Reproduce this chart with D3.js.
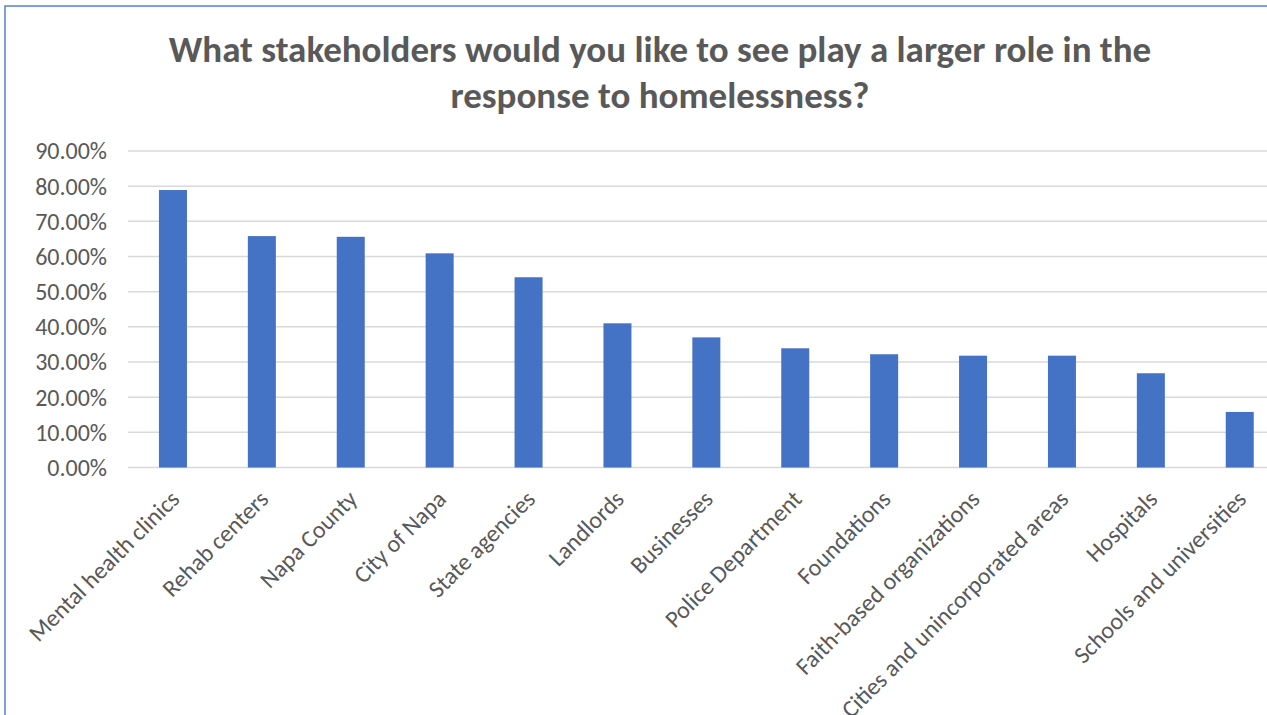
<!DOCTYPE html>
<html>
<head>
<meta charset="utf-8">
<script src="https://cdn.jsdelivr.net/npm/d3@7"></script>
<style>
  body { margin: 0; background: #fff; }
  svg { display: block; font-family: Carlito, Calibri, Lato, sans-serif; }
</style>
</head>
<body>
<svg id="chart" width="1267" height="715"></svg>
<script>
var categories = [
    "Mental health clinics", "Rehab centers", "Napa County", "City of Napa",
    "State agencies", "Landlords", "Businesses", "Police Department",
    "Foundations", "Faith-based organizations", "Cities and unincorporated areas",
    "Hospitals", "Schools and universities"
];
var values = [0.789, 0.658, 0.656, 0.609, 0.541, 0.410, 0.370, 0.339, 0.322, 0.318, 0.318, 0.268, 0.158];
var yTicks = [0, 0.1, 0.2, 0.3, 0.4, 0.5, 0.6, 0.7, 0.8, 0.9];
var titleLines = [
    "What stakeholders would you like to see play a larger role in the",
    "response to homelessness?"
];

var svg = d3.select("#chart");

// chart frame (cut off at right and bottom like the screenshot)
svg.append("rect")
    .attr("x", 5).attr("y", 6)
    .attr("width", 1300).attr("height", 800)
    .attr("fill", "#fff")
    .attr("stroke", "#5083d2")
    .attr("stroke-width", 1.5);

var x = d3.scaleBand()
    .domain(categories)
    .range([128.5, 128.5 + 88.9 * categories.length])
    .paddingInner(0.685)
    .paddingOuter(0.3425);

var y = d3.scaleLinear()
    .domain([0, 0.9])
    .range([467.5, 151]);

// gridlines
svg.append("g").selectAll("line")
    .data(yTicks)
    .enter().append("line")
    .attr("x1", 128).attr("x2", 1267)
    .attr("y1", function(d) { return y(d); })
    .attr("y2", function(d) { return y(d); })
    .attr("stroke", "#d9d9d9")
    .attr("stroke-width", 1.5);

// y tick labels
svg.append("g").selectAll("text")
    .data(yTicks)
    .enter().append("text")
    .attr("x", 107)
    .attr("y", function(d) { return y(d); })
    .attr("dy", "0.35em")
    .attr("text-anchor", "end")
    .attr("fill", "#595959")
    .attr("font-size", 24)
    .text(function(d) { return (d * 100).toFixed(2) + "%"; });

// bars
svg.append("g").selectAll("rect")
    .data(values)
    .enter().append("rect")
    .attr("x", function(d, i) { return x(categories[i]); })
    .attr("width", x.bandwidth())
    .attr("y", function(d) { return y(d); })
    .attr("height", function(d) { return y(0) - y(d); })
    .attr("fill", "#4472c4");

// category labels
svg.append("g").selectAll("text")
    .data(categories)
    .enter().append("text")
    .attr("transform", function(d) {
        var cx = x(d) + x.bandwidth() / 2;
        return "translate(" + (cx + 8) + "," + (y(0) + 33) + ") rotate(-45)";
    })
    .attr("text-anchor", "end")
    .attr("fill", "#595959")
    .attr("font-size", 24)
    .text(function(d) { return d; });

// title
svg.append("g").selectAll("text")
    .data(titleLines)
    .enter().append("text")
    .attr("x", 660)
    .attr("y", function(d, i) { return 62 + i * 46; })
    .attr("text-anchor", "middle")
    .attr("fill", "#595959")
    .attr("font-size", 37)
    .attr("font-weight", "bold")
    .text(function(d) { return d; });
</script>
</body>
</html>
